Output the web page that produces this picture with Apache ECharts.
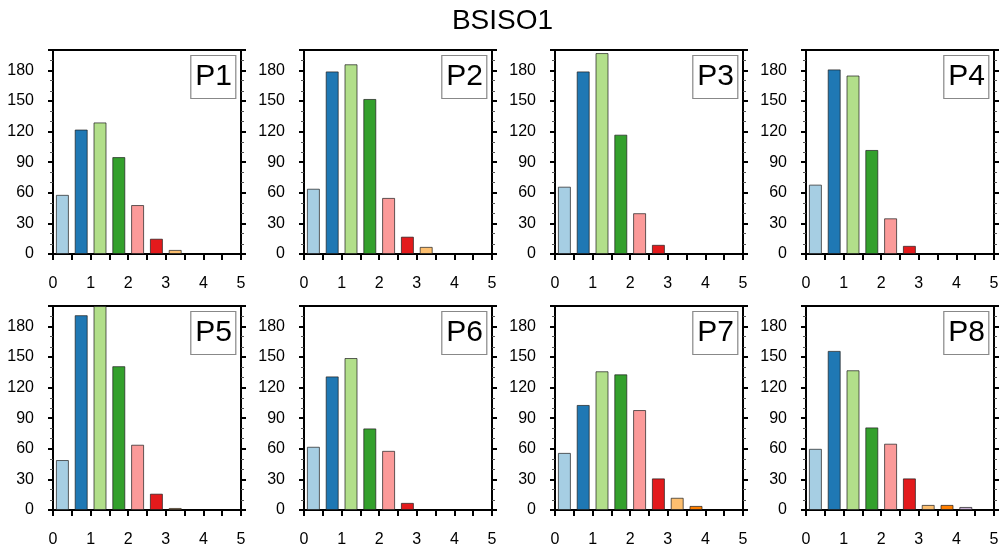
<!DOCTYPE html>
<html>
<head>
<meta charset="utf-8">
<title>BSISO1</title>
<script src="https://cdn.jsdelivr.net/npm/echarts@6/dist/echarts.min.js"></script>
<style>
  html, body { margin: 0; padding: 0; background: #fff; }
  #main { width: 1005px; height: 550px; }
</style>
</head>
<body>
<div id="main"></div>
<script>
// bin centres on the 0..5 axis (bins are 0.5 wide)
const binCenters = [0.25, 0.75, 1.25, 1.75, 2.25, 2.75, 3.25, 3.75, 4.25, 4.75];

// counts per bin
const p1 = [58, 122, 129, 95, 48, 15, 4, 0, 0, 0];
const p2 = [64, 179, 186, 152, 55, 17, 7, 0, 0, 0];
const p3 = [66, 179, 197, 117, 40, 9, 0, 0, 0, 0];
const p4 = [68, 181, 175, 102, 35, 8, 0, 0, 0, 0];
const p5 = [49, 191, 200, 141, 64, 16, 2, 0, 0, 0];
const p6 = [62, 131, 149, 80, 58, 7, 0, 0, 0, 0];
const p7 = [56, 103, 136, 133, 98, 31, 12, 4, 0, 0];
const p8 = [60, 156, 137, 81, 65, 31, 5, 5, 3, 0];

const panelNames = ["P1", "P2", "P3", "P4", "P5", "P6", "P7", "P8"];
const panelData = [p1, p2, p3, p4, p5, p6, p7, p8];

const xLabels = [0, 1, 2, 3, 4, 5];
const yLabels = [0, 30, 60, 90, 120, 150, 180];

const barColors = ["#a6cee3", "#1f78b4", "#b2df8a", "#33a02c", "#fb9a99",
                   "#e31a1c", "#fdbf6f", "#ff7f00", "#cab2d6", "#6a3d9a"];

const chart = echarts.init(document.querySelector("#main"));

const colLeft = [53, 304, 555, 806];
const rowTop = [50, 306];
const plotW = 188;
const plotH = 204;
const font = "Liberation Sans, Arial, Helvetica, sans-serif";

let grids = [], xAxes = [], yAxes = [], series = [];
let titles = [{
    text: "BSISO1",
    left: "center",
    top: 2,
    textStyle: { fontFamily: font, fontSize: 28, fontWeight: "normal", color: "#000" },
}];

panelData.forEach((vals, i) => {
    let left = colLeft[i % 4];
    let top = rowTop[Math.floor(i / 4)];
    grids.push({
        left: left, top: top, width: plotW, height: plotH,
        show: true, borderColor: "#000", borderWidth: 2, backgroundColor: "#fff",
    });
    xAxes.push({
        gridIndex: i, type: "value", min: 0, max: 5, interval: 0.5,
        axisLine: { show: true, onZero: false, lineStyle: { color: "#000", width: 2 } },
        axisTick: { show: true, length: 6, lineStyle: { color: "#000", width: 2 } },
        splitLine: { show: false },
        axisLabel: {
            margin: 22, color: "#000", fontFamily: font, fontSize: 16,
            showMaxLabel: true, showMinLabel: true,
            formatter: (v) => (xLabels.includes(v) ? String(v) : ""),
        },
    });
    const yCommon = {
        gridIndex: i, type: "value", min: 0, max: 200, interval: 30,
        axisLine: { show: true, lineStyle: { color: "#000", width: 2 } },
        axisTick: { show: true, length: 5, lineStyle: { color: "#000", width: 2 } },
        minorTick: { show: true, splitNumber: 3, length: 3, lineStyle: { color: "#555", width: 1 } },
        splitLine: { show: false },
    };
    yAxes.push(Object.assign({}, yCommon, {
        position: "left",
        axisLabel: {
            margin: 19, color: "#000", fontFamily: font, fontSize: 16,
            showMaxLabel: false,
            formatter: (v) => (yLabels.includes(v) ? String(v) : ""),
        },
    }));
    yAxes.push(Object.assign({}, yCommon, {
        position: "right",
        axisLabel: { show: false },
    }));
    series.push({
        type: "bar",
        xAxisIndex: i,
        yAxisIndex: 2 * i,
        barWidth: 13,
        data: binCenters
            .map((x, j) => ({ value: [x, vals[j]], itemStyle: { color: barColors[j] } }))
            .filter((d) => d.value[1] > 0),
        itemStyle: { borderColor: "rgba(30,30,30,0.7)", borderWidth: 1 },
        silent: true,
    });
    titles.push({
        text: panelNames[i],
        right: 1005 - (left + plotW - 5),
        top: top + 5,
        padding: [7, 4, 7, 5],
        borderColor: "#888",
        borderWidth: 1.2,
        backgroundColor: "#fff",
        textStyle: { fontFamily: font, fontSize: 30, lineHeight: 30, fontWeight: "normal", color: "#000" },
    });
});

chart.setOption({
    animation: false,
    backgroundColor: "#fff",
    title: titles,
    grid: grids,
    xAxis: xAxes,
    yAxis: yAxes,
    series: series,
});
</script>
</body>
</html>
